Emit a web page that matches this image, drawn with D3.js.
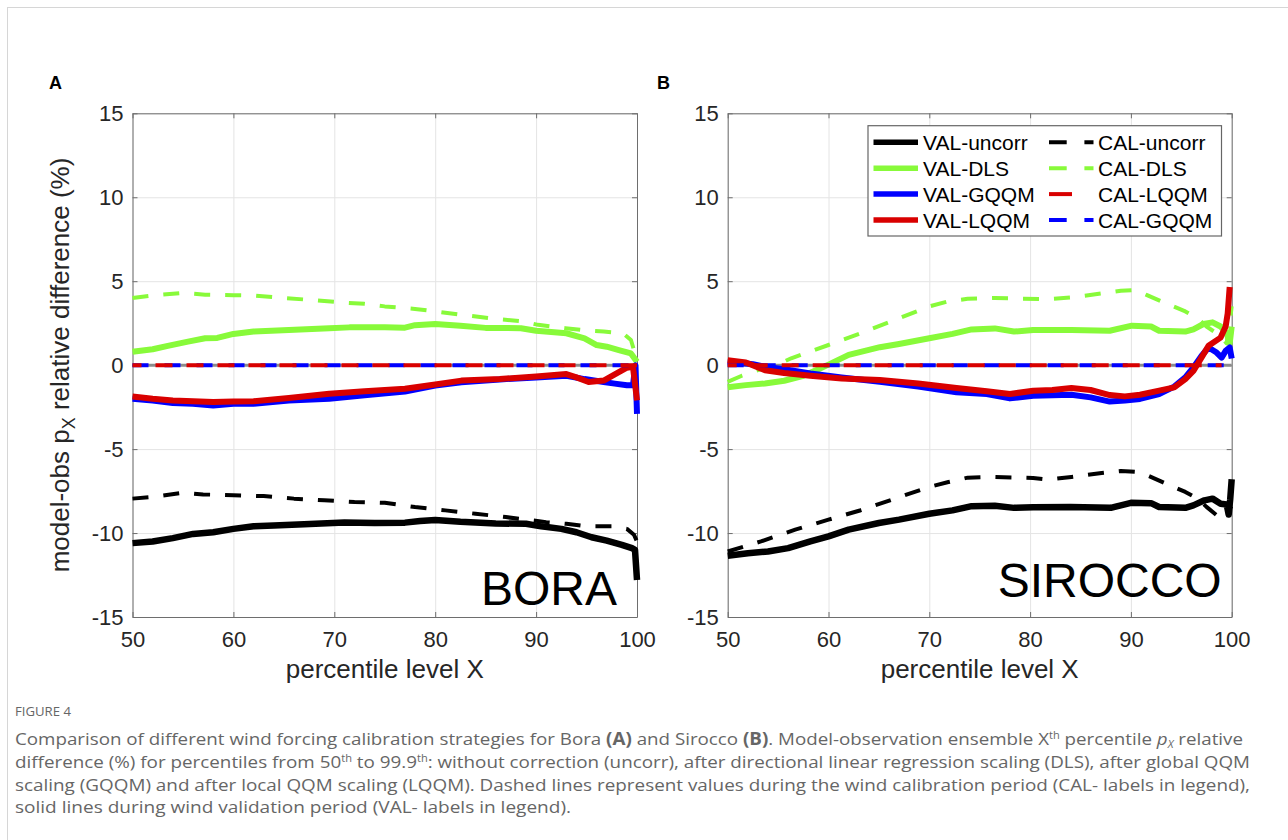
<!DOCTYPE html>
<html>
<head>
<meta charset="utf-8">
<script src="https://cdn.jsdelivr.net/npm/d3@7"></script>
<style>
  body { margin: 0; background: #fff; }
  svg { display: block; font-family: "Liberation Sans", Arial, Helvetica, sans-serif; }
</style>
</head>
<body>
<div id="chart"></div>
<script>
// ---- data ----
const xTicks = [50, 60, 70, 80, 90, 100];
const yTicks = [-15, -10, -5, 0, 5, 10, 15];
const panelNames = ["BORA", "SIROCCO"];
const legendCol1 = ["VAL-uncorr", "VAL-DLS", "VAL-GQQM", "VAL-LQQM"];
const legendCol2 = ["CAL-uncorr", "CAL-DLS", "CAL-LQQM", "CAL-GQQM"];

// Bora (A)
const boraValUncorr = [[50,-10.6],[52,-10.5],[54,-10.3],[56,-10.05],[58,-9.95],[60,-9.75],[62,-9.6],[64,-9.55],[67,-9.47],[71,-9.37],[74,-9.4],[77,-9.38],[78.5,-9.28],[80,-9.22],[82.5,-9.33],[86,-9.43],[89,-9.45],[90.5,-9.6],[92.5,-9.75],[94,-9.95],[95.5,-10.25],[97,-10.45],[98.5,-10.7],[99.5,-10.9],[99.8,-11.0],[100,-12.8]];
const boraCalUncorr = [[50,-7.95],[52,-7.85],[55,-7.6],[57,-7.7],[60,-7.75],[63,-7.8],[66,-7.95],[69,-8.05],[72,-8.15],[75,-8.2],[78,-8.45],[81,-8.65],[84,-8.85],[87,-9.05],[89,-9.2],[91,-9.35],[93,-9.45],[95,-9.6],[97.5,-9.6],[99,-9.75],[99.7,-10.1],[100,-10.5]];
const boraValDls = [[50,0.8],[52,0.95],[53.5,1.15],[55.5,1.4],[57.2,1.6],[58.4,1.62],[60,1.86],[62,2.0],[65.5,2.1],[69.5,2.2],[71.5,2.25],[75,2.25],[77,2.23],[78,2.38],[80,2.45],[82.5,2.35],[85,2.22],[88.5,2.2],[90,2.05],[93,1.9],[94.8,1.6],[96,1.2],[97,1.1],[98.2,0.9],[99.4,0.7],[100,0.2]];
const boraCalDls = [[50,4.0],[52.3,4.17],[55,4.3],[57.2,4.2],[60,4.17],[62,4.15],[65,4.0],[68,3.87],[71,3.72],[73,3.65],[75,3.5],[78,3.35],[80,3.2],[82.6,3.0],[85.3,2.8],[88.7,2.6],[90.2,2.4],[92.9,2.2],[95.2,2.05],[96.7,2.0],[98.6,1.9],[99.4,1.5],[100,0.3]];
const boraValGqqm = [[50,-2.0],[52,-2.1],[54,-2.25],[56,-2.3],[58,-2.4],[60,-2.3],[62,-2.3],[65.5,-2.1],[69.5,-2.0],[73,-1.8],[77,-1.57],[80,-1.22],[82.6,-1.02],[86.4,-0.85],[90,-0.73],[93,-0.63],[94.8,-0.83],[96.7,-1.0],[97.8,-1.1],[99,-1.2],[99.6,-1.2],[99.85,0],[100,-2.9]];
const boraValLqqm = [[50,-1.87],[52,-2.0],[54,-2.1],[56,-2.15],[58,-2.2],[60,-2.17],[62,-2.15],[65.5,-1.95],[69.5,-1.7],[73,-1.55],[77,-1.4],[80,-1.15],[82.6,-0.92],[86.4,-0.83],[90,-0.67],[93,-0.53],[94,-0.73],[95.2,-1.0],[96.7,-0.92],[97.8,-0.55],[99,-0.15],[99.6,-0.1],[100,-2.1]];
const boraCalGqqm = [[50,0],[75,0],[100,0]];
const boraCalLqqm = [[50,0],[75,0],[100,0]];

// Sirocco (B)
const sirValUncorr = [[50,-11.35],[52,-11.2],[54,-11.1],[56,-10.9],[58.2,-10.5],[60,-10.2],[62,-9.8],[65,-9.4],[67,-9.2],[70,-8.85],[72.3,-8.65],[74.2,-8.4],[76.5,-8.38],[78.4,-8.5],[80.3,-8.47],[84,-8.45],[88,-8.5],[90,-8.2],[92,-8.22],[92.8,-8.45],[95.4,-8.5],[96.2,-8.35],[97.3,-8.05],[98.1,-7.95],[98.9,-8.25],[99.5,-8.3],[99.7,-8.9],[99.85,-8.0],[100,-6.8]];
const sirCalUncorr = [[50,-11.1],[53.3,-10.5],[56.7,-9.8],[60,-9.2],[63.2,-8.64],[66.6,-7.95],[70,-7.25],[71.9,-6.96],[73.8,-6.7],[76.5,-6.66],[80.3,-6.72],[81.8,-6.82],[84.1,-6.66],[87.1,-6.42],[89,-6.3],[90.5,-6.36],[91.6,-6.56],[93.5,-7.06],[95.4,-7.55],[96.6,-7.94],[97.5,-8.44],[98.5,-8.93],[99.2,-9.03],[99.7,-8.6],[100,-8.4]];
const sirValDls = [[50,-1.32],[51.8,-1.19],[53.7,-1.09],[55.6,-0.93],[57.5,-0.63],[59,-0.24],[60.1,0.06],[62,0.61],[65.1,1.07],[67,1.26],[70,1.6],[72.3,1.86],[74.2,2.13],[76.5,2.19],[78.4,2.0],[80.3,2.1],[84.1,2.1],[87.9,2.05],[90.1,2.35],[92,2.3],[92.8,2.05],[95.4,2.0],[96.2,2.13],[97.2,2.45],[98.1,2.55],[98.9,2.3],[99.5,1.9],[99.8,1.3],[100,2.3]];
const sirCalDls = [[50,-1.0],[51.4,-0.63],[53.3,-0.24],[54.8,0.0],[56.3,0.41],[60,1.2],[63.2,1.9],[66.6,2.7],[70,3.5],[71.9,3.8],[73.8,3.95],[76.5,4.0],[78.4,3.97],[81.8,3.93],[84.1,4.03],[87.1,4.27],[89,4.43],[90.5,4.47],[91.6,4.17],[93.5,3.68],[95.4,3.2],[96.6,2.8],[97.5,2.3],[98.5,1.9],[99.2,1.5],[99.5,1.3],[99.8,2.5],[100,3.5]];
const sirValGqqm = [[50,0.22],[52.5,0.06],[53.7,-0.1],[55.6,-0.24],[58.2,-0.5],[61.3,-0.73],[65.1,-0.99],[68.9,-1.28],[72.7,-1.62],[75.7,-1.72],[78,-1.98],[80.3,-1.82],[84.1,-1.76],[86,-1.92],[87.9,-2.17],[89.4,-2.11],[90.9,-2.01],[92.8,-1.72],[94.3,-1.28],[95.4,-0.73],[96.2,-0.14],[97,0.55],[97.7,1.05],[98.5,0.75],[99,0.45],[99.4,0.85],[99.8,1.05],[100,0.4]];
const sirValLqqm = [[50,0.3],[51.8,0.16],[53.7,-0.3],[55.6,-0.47],[58.2,-0.63],[61.3,-0.79],[65.1,-0.89],[68.9,-1.09],[72.7,-1.36],[75.7,-1.56],[78,-1.72],[80.3,-1.52],[82.2,-1.48],[84.1,-1.36],[86,-1.48],[87.9,-1.78],[89.4,-1.86],[90.9,-1.76],[92.8,-1.52],[94.3,-1.32],[95.4,-0.83],[96.2,-0.34],[97,0.45],[97.7,1.15],[98.9,1.64],[99.4,2.3],[99.6,3.08],[99.8,4.66]];
const sirCalGqqm = [[50,0],[75,0],[100,0]];
const sirCalLqqm = [[50,0],[75,0],[99,0]];

// ---- colours / styles ----
const cBlack = "#000000", cGreen = "#88fa3a", cBlue = "#0000ff", cRed = "#d90000";

const W = 1288, H = 840;
const plotTop = 113.3, plotH = 503.7;

const svg = d3.select("#chart").append("svg")
    .attr("width", W)
    .attr("height", H);

svg.append("rect").attr("width", W).attr("height", H).attr("fill", "#fff");
// page frame
svg.append("rect")
    .attr("x", 7.5).attr("y", 7.5)
    .attr("width", 1400).attr("height", 1000)
    .attr("fill", "none").attr("stroke", "#d6d6d6");

function drawPanel(opt) {
    const g = svg.append("g").attr("transform", "translate(" + opt.left + "," + plotTop + ")");
    const x = d3.scaleLinear().domain([50, 100]).range([0, opt.width]);
    const y = d3.scaleLinear().domain([-15, 15]).range([plotH, 0]);
    const plain = d => String(d);   // hyphen minus like the original, not U+2212

    // grid
    g.append("g")
        .attr("transform", "translate(0," + plotH + ")")
        .call(d3.axisBottom(x).tickValues(xTicks).tickSize(-plotH).tickFormat(""))
        .call(s => s.select(".domain").remove())
        .call(s => s.selectAll("line").attr("stroke", "#e4e4e4"));
    g.append("g")
        .call(d3.axisLeft(y).tickValues(yTicks).tickSize(-opt.width).tickFormat(""))
        .call(s => s.select(".domain").remove())
        .call(s => s.selectAll("line").attr("stroke", "#e4e4e4"));

    // axes (ticks inside, MATLAB box)
    const xAxis = g.append("g")
        .attr("transform", "translate(0," + plotH + ")")
        .call(d3.axisBottom(x).tickValues(xTicks).tickFormat(plain).tickSizeInner(-5).tickSizeOuter(0).tickPadding(14.5));
    const yAxis = g.append("g")
        .call(d3.axisLeft(y).tickValues(yTicks).tickFormat(plain).tickSizeInner(-5).tickSizeOuter(0).tickPadding(9));
    const xTop = g.append("g")
        .call(d3.axisTop(x).tickValues(xTicks).tickSizeInner(-5).tickSizeOuter(0).tickFormat(""));
    const yRight = g.append("g")
        .attr("transform", "translate(" + opt.width + ",0)")
        .call(d3.axisRight(y).tickValues(yTicks).tickSizeInner(-5).tickSizeOuter(0).tickFormat(""));
    [xAxis, yAxis, xTop, yRight].forEach(a => {
        a.select(".domain").attr("stroke", "#6e6e6e");
        a.selectAll(".tick line").attr("stroke", "#6e6e6e");
        a.selectAll("text")
            .attr("fill", "#262626")
            .style("font-size", "22px")
            .style("font-family", "'Liberation Sans', Arial, sans-serif");
    });

    // zero reference
    g.append("line")
        .attr("x1", x(50)).attr("x2", x(100))
        .attr("y1", y(0)).attr("y2", y(0))
        .attr("stroke", "#8c8c8c").attr("stroke-width", 3);

    const line = d3.line().x(d => x(d[0])).y(d => y(d[1]));
    const series = [
        { d: opt.calUncorr, c: cBlack, dash: true },
        { d: opt.calDls, c: cGreen, dash: true },
        { d: opt.valUncorr, c: cBlack, w: 6.5 },
        { d: opt.valDls, c: cGreen },
        { d: opt.valGqqm, c: cBlue },
        { d: opt.valLqqm, c: cRed },
        { d: opt.calGqqm, c: cBlue, dash: true, da: "16 16" },
        { d: opt.calLqqm, c: cRed, dash: true, da: "17 14", off: 8 }
    ];
    series.forEach(s => {
        g.append("path")
            .datum(s.d)
            .attr("d", line)
            .attr("fill", "none")
            .attr("stroke", s.c)
            .attr("stroke-width", s.dash ? 4 : (s.w || 6))
            .attr("stroke-linejoin", "round")
            .attr("stroke-dasharray", s.dash ? (s.da || "16 15") : null)
            .attr("stroke-dashoffset", s.off || 0);
    });

    // wind name
    g.append("text")
        .attr("x", opt.width - opt.nameRight)
        .attr("y", opt.nameY)
        .attr("text-anchor", "end")
        .attr("fill", "#000")
        .style("font-size", "48px")
        .text(opt.name);

    // x label
    g.append("text")
        .attr("x", opt.width / 2)
        .attr("y", plotH + 61)
        .attr("text-anchor", "middle")
        .attr("fill", "#262626")
        .style("font-size", "26px")
        .text("percentile level X");

    // panel letter
    svg.append("text")
        .attr("x", opt.letterX).attr("y", 89)
        .attr("font-weight", "bold")
        .style("font-size", "18px")
        .text(opt.letter);

    return { g: g, x: x, y: y };
}

drawPanel({
    left: 132.5, width: 504.5, letter: "A", letterX: 49, name: panelNames[0], nameRight: 20, nameY: 491.5,
    valUncorr: boraValUncorr, calUncorr: boraCalUncorr, valDls: boraValDls, calDls: boraCalDls,
    valGqqm: boraValGqqm, valLqqm: boraValLqqm, calGqqm: boraCalGqqm, calLqqm: boraCalLqqm
});
drawPanel({
    left: 727.7, width: 504, letter: "B", letterX: 657, name: panelNames[1], nameRight: 10, nameY: 484,
    valUncorr: sirValUncorr, calUncorr: sirCalUncorr, valDls: sirValDls, calDls: sirCalDls,
    valGqqm: sirValGqqm, valLqqm: sirValLqqm, calGqqm: sirCalGqqm, calLqqm: sirCalLqqm
});

// y label (panel A)
svg.append("text")
    .attr("transform", "translate(69,365) rotate(-90)")
    .attr("text-anchor", "middle")
    .attr("fill", "#262626")
    .style("font-size", "26px")
    .call(t => {
        t.append("tspan").text("model-obs p");
        t.append("tspan").attr("dy", 6).style("font-size", "18px").text("X");
        t.append("tspan").attr("dy", -6).text(" relative difference (%)");
    });

// legend (panel B)
const lg = svg.append("g").attr("transform", "translate(868,125.7)");
lg.append("rect")
    .attr("width", 353.5).attr("height", 110.3)
    .attr("fill", "#fff").attr("stroke", "#666").attr("stroke-width", 1.2);
const colColours1 = [cBlack, cGreen, cBlue, cRed];
const colColours2 = [cBlack, cGreen, cRed, cBlue];
legendCol1.forEach((lab, i) => {
    const yy = 16.6 + i * 25.9;
    lg.append("line").attr("x1", 5.5).attr("x2", 50).attr("y1", yy).attr("y2", yy)
        .attr("stroke", colColours1[i]).attr("stroke-width", 5.5);
    lg.append("text").attr("x", 55).attr("y", yy).attr("dy", "0.36em")
        .style("font-size", "21px").attr("fill", "#000").text(lab);
});
legendCol2.forEach((lab, i) => {
    const yy = 16.6 + i * 25.9;
    lg.append("line").attr("x1", 181).attr("x2", 225.5).attr("y1", yy).attr("y2", yy)
        .attr("stroke", colColours2[i]).attr("stroke-width", 4)
        .attr("stroke-dasharray", lab === "CAL-LQQM" ? "23 40" : "17.7 17.7");
    lg.append("text").attr("x", 230).attr("y", yy).attr("dy", "0.36em")
        .style("font-size", "21px").attr("fill", "#000").text(lab);
});

// caption (condensed look: glyphs squeezed to the measured line widths)
const cap = svg.append("g").attr("fill", "#666").style("font-family", "'Open Sans', 'Noto Sans', sans-serif");
cap.append("text").attr("x", 15).attr("y", 716).attr("textLength", 56).attr("lengthAdjust", "spacingAndGlyphs")
    .style("font-size", "13px").text("FIGURE 4");

function sup(t, s) {
    t.append("tspan").attr("dy", -6).style("font-size", "10px").text(s);
    return t.append("tspan").attr("dy", 6);
}
const capSize = "17px";
const l1 = cap.append("text").attr("x", 15).attr("y", 745).attr("textLength", 1228).attr("lengthAdjust", "spacingAndGlyphs").style("font-size", capSize);
l1.append("tspan").text("Comparison of different wind forcing calibration strategies for Bora ");
l1.append("tspan").attr("font-weight", "bold").text("(A)");
l1.append("tspan").text(" and Sirocco ");
l1.append("tspan").attr("font-weight", "bold").text("(B)");
l1.append("tspan").text(". Model-observation ensemble X");
sup(l1, "th").text(" percentile ");
l1.append("tspan").attr("font-style", "italic").text("p");
l1.append("tspan").attr("font-style", "italic").attr("dy", 2.5).style("font-size", "10px").text("X");
l1.append("tspan").attr("dy", -2.5).text(" relative");

const l2 = cap.append("text").attr("x", 15).attr("y", 768).attr("textLength", 1235).attr("lengthAdjust", "spacingAndGlyphs").style("font-size", capSize);
l2.append("tspan").text("difference (%) for percentiles from 50");
sup(l2, "th").text(" to 99.9");
sup(l2, "th").text(": without correction (uncorr), after directional linear regression scaling (DLS), after global QQM");

cap.append("text").attr("x", 15).attr("y", 791).attr("textLength", 1235).attr("lengthAdjust", "spacingAndGlyphs").style("font-size", capSize)
    .text("scaling (GQQM) and after local QQM scaling (LQQM). Dashed lines represent values during the wind calibration period (CAL- labels in legend),");
cap.append("text").attr("x", 15).attr("y", 813).attr("textLength", 556).attr("lengthAdjust", "spacingAndGlyphs").style("font-size", capSize)
    .text("solid lines during wind validation period (VAL- labels in legend).");
</script>
</body>
</html>
